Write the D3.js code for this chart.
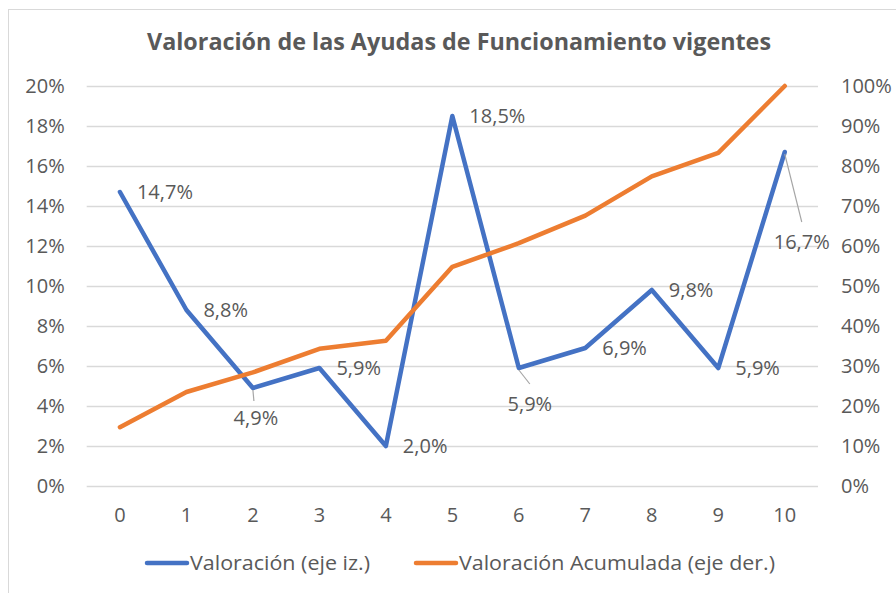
<!DOCTYPE html>
<html>
<head>
<meta charset="utf-8">
<script src="https://cdn.jsdelivr.net/npm/d3@7"></script>
<style>
  body { margin: 0; background: #fff; }
  text { font-family: "Open Sans", sans-serif; fill: #595959; }
</style>
</head>
<body>
<div id="chart"></div>
<script>
// Data
var categories = ['0', '1', '2', '3', '4', '5', '6', '7', '8', '9', '10'];
var valoracion = [0.147, 0.088, 0.049, 0.059, 0.020, 0.185, 0.059, 0.069, 0.098, 0.059, 0.167];
var acumulada = [0.147, 0.235, 0.284, 0.343, 0.363, 0.548, 0.607, 0.676, 0.774, 0.833, 1.0];
var leftTicks = [0, 0.02, 0.04, 0.06, 0.08, 0.10, 0.12, 0.14, 0.16, 0.18, 0.20];
var rightTicks = [0, 0.1, 0.2, 0.3, 0.4, 0.5, 0.6, 0.7, 0.8, 0.9, 1.0];
var seriesNames = ['Valoración (eje iz.)', 'Valoración Acumulada (eje der.)'];
var title = 'Valoración de las Ayudas de Funcionamiento vigentes';

// label placement (Excel-like): 'right' or moved with a leader line
var labelPos = [
  { pos: 'right' }, { pos: 'right' }, { pos: 'moved', dx: 3, dy: 30, lx: 1, ly: 13 },
  { pos: 'right' }, { pos: 'right' }, { pos: 'right' },
  { pos: 'moved', dx: 11, dy: 36, lx: 11, ly: 16 }, { pos: 'right' }, { pos: 'right' },
  { pos: 'right' }, { pos: 'moved', dx: 17, dy: 90, lx: 17, ly: 70 }
];

var attrs = {
  width: 896, height: 593,
  left: 86.7, right: 818, top: 86, bottom: 486,
  blue: '#4472C4', orange: '#ED7D31', grid: '#d9d9d9'
};

var svg = d3.select('#chart').append('svg')
  .attr('width', attrs.width).attr('height', attrs.height);

// chart frame (only left/top visible in the picture)
svg.append('rect')
  .attr('x', 8.5).attr('y', 9.5).attr('width', 900).attr('height', 600)
  .attr('fill', 'none').attr('stroke', '#d9d9d9').attr('stroke-width', 1);

var x = d3.scaleBand().domain(categories).range([attrs.left, attrs.right]);
var yL = d3.scaleLinear().domain([0, 0.2]).range([attrs.bottom, attrs.top]);
var yR = d3.scaleLinear().domain([0, 1]).range([attrs.bottom, attrs.top]);
var cx = function (i) { return x(categories[i]) + x.bandwidth() / 2; };

// gridlines
svg.append('g').selectAll('line').data(leftTicks).enter().append('line')
  .attr('x1', attrs.left).attr('x2', attrs.right)
  .attr('y1', d => Math.round(yL(d)) + 0.5).attr('y2', d => Math.round(yL(d)) + 0.5)
  .attr('stroke', attrs.grid).attr('stroke-width', 1.3);

var pctFmt = d3.format('.0%');

// left axis
var gL = svg.append('g').attr('transform', 'translate(' + (attrs.left - 22) + ',0)')
  .call(d3.axisLeft(yL).tickValues(leftTicks).tickFormat(pctFmt).tickSize(0).tickPadding(0));
// right axis
var gR = svg.append('g').attr('transform', 'translate(' + (attrs.right + 23) + ',0)')
  .call(d3.axisRight(yR).tickValues(rightTicks).tickFormat(pctFmt).tickSize(0).tickPadding(0));
// x axis
var gX = svg.append('g').attr('transform', 'translate(0,' + (attrs.bottom + 22) + ')')
  .call(d3.axisBottom(x).tickSize(0).tickPadding(0));

[gL, gR, gX].forEach(function (g) {
  g.select('.domain').remove();
  g.selectAll('text').attr('font-size', 20).attr('fill', '#595959')
    .style('font-family', '"Open Sans", sans-serif');
});
gX.selectAll('text').attr('dy', '0.71em');

// lines
var lineL = d3.line().x((d, i) => cx(i)).y(d => yL(d));
var lineR = d3.line().x((d, i) => cx(i)).y(d => yR(d));

svg.append('path').datum(valoracion).attr('d', lineL)
  .attr('fill', 'none').attr('stroke', attrs.blue).attr('stroke-width', 4.5)
  .attr('stroke-linejoin', 'round').attr('stroke-linecap', 'round');
svg.append('path').datum(acumulada).attr('d', lineR)
  .attr('fill', 'none').attr('stroke', attrs.orange).attr('stroke-width', 4.5)
  .attr('stroke-linejoin', 'round').attr('stroke-linecap', 'round');

// data labels
var labFmt = function (v) { return d3.format('.1f')(v * 100).replace('.', ',') + '%'; };
var labels = svg.append('g');
valoracion.forEach(function (v, i) {
  var px = cx(i), py = yL(v), p = labelPos[i];
  if (p.pos === 'right') {
    labels.append('text').attr('x', px + 17).attr('y', py).attr('dy', '0.35em')
      .attr('font-size', 20).text(labFmt(v));
  } else {
    labels.append('line')
      .attr('x1', px).attr('y1', py + 2)
      .attr('x2', px + p.lx).attr('y2', py + p.ly)
      .attr('stroke', '#a6a6a6').attr('stroke-width', 1.2);
    labels.append('text').attr('x', px + p.dx).attr('y', py + p.dy).attr('dy', '0.35em')
      .attr('text-anchor', 'middle').attr('font-size', 20).text(labFmt(v));
  }
});

// title
svg.append('text').attr('x', 459).attr('y', 42).attr('dy', '0.35em')
  .attr('text-anchor', 'middle').attr('font-size', 24).attr('font-weight', 'bold')
  .attr('textLength', 624).attr('lengthAdjust', 'spacingAndGlyphs')
  .text(title);

// legend
var legend = [
  { name: seriesNames[0], color: attrs.blue, x: 147, w: 180 },
  { name: seriesNames[1], color: attrs.orange, x: 416, w: 316 }
];
var lg = svg.append('g').selectAll('g').data(legend).enter().append('g')
  .attr('transform', d => 'translate(' + d.x + ',563)');
lg.append('line').attr('x1', 0).attr('x2', 40).attr('y1', 0).attr('y2', 0)
  .attr('stroke', d => d.color).attr('stroke-width', 4.5).attr('stroke-linecap', 'round');
lg.append('text').attr('x', 43).attr('dy', '0.35em').attr('font-size', 20)
  .attr('textLength', d => d.w).attr('lengthAdjust', 'spacingAndGlyphs')
  .text(d => d.name);
</script>
</body>
</html>
